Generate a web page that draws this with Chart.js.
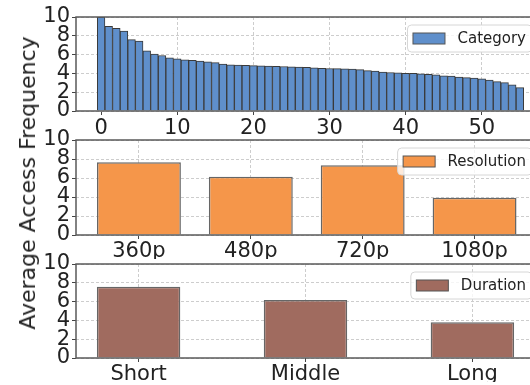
<!DOCTYPE html>
<html>
<head>
<meta charset="utf-8">
<script src="https://cdn.jsdelivr.net/npm/chart.js@4.4.1/dist/chart.umd.min.js"></script>
<style>
html,body{margin:0;padding:0;overflow:hidden;background:#fff;width:530px;height:385px;}
#wrap{position:relative;width:560px;height:385px;}
canvas{position:absolute;left:0;top:0;}
#ylab{position:absolute;left:28px;top:183px;transform:translate(-50%,-50%) rotate(-90deg);white-space:nowrap;font-family:'DejaVu Sans';font-size:22px;line-height:1;color:#222;}
</style>
</head>
<body>
<div id="wrap">
<canvas id="c1" width="560" height="385"></canvas>
<canvas id="c2" width="560" height="385"></canvas>
<canvas id="c3" width="560" height="385"></canvas>
<div id="ylab">Average Access Frequency</div>
</div>
<script>
// ---- data ----
const categoryIds = Array.from({length: 56}, (_, i) => i);
const categoryValues = [10.0, 9.0, 8.8, 8.5, 7.6, 7.45, 6.4, 6.05, 5.9, 5.65,
  5.55, 5.45, 5.38, 5.3, 5.22, 5.15, 4.98, 4.9, 4.88, 4.85,
  4.82, 4.8, 4.77, 4.75, 4.73, 4.71, 4.68, 4.65, 4.6, 4.55,
  4.52, 4.5, 4.48, 4.45, 4.4, 4.3, 4.25, 4.15, 4.1, 4.05,
  4.02, 4.0, 3.95, 3.9, 3.85, 3.75, 3.72, 3.62, 3.55, 3.5,
  3.42, 3.3, 3.12, 3.02, 2.78, 2.48];
const categoryTicks = [0, 10, 20, 30, 40, 50];
const resolutionLabels = ['360p', '480p', '720p', '1080p'];
const resolutionValues = [7.65, 6.14, 7.33, 3.93];
const durationLabels = ['Short', 'Middle', 'Long'];
const durationValues = [7.59, 6.17, 3.8];
const yTicks = [0, 2, 4, 6, 8, 10];

Chart.defaults.font.family = "'DejaVu Sans'";
Chart.defaults.color = '#222';

const spinePlugin = {
  id: 'spines',
  afterDraw(chart) {
    const {ctx, chartArea: a} = chart;
    ctx.save();
    ctx.strokeStyle = '#5a5a5a';
    ctx.lineWidth = 1.5;
    ctx.strokeRect(a.left, a.top, a.right - a.left, a.bottom - a.top);
    ctx.restore();
    const o = chart.options.plugins.boxLegend;
    const ds = chart.data.datasets[0];
    ctx.save();
    ctx.font = '15px "DejaVu Sans"';
    const tw = ctx.measureText(ds.label).width;
    const w = 56 + tw, h = 27;
    const x0 = o.right - w, y0 = a.top + 8;
    ctx.beginPath();
    ctx.roundRect(x0, y0, w, h, 4);
    ctx.fillStyle = 'rgba(255,255,255,0.8)';
    ctx.fill();
    ctx.strokeStyle = '#d6d6d6';
    ctx.lineWidth = 1;
    ctx.stroke();
    ctx.fillStyle = ds.backgroundColor;
    ctx.fillRect(x0 + 5.5, y0 + 8, 32, 11);
    ctx.strokeStyle = '#555';
    ctx.lineWidth = 1;
    ctx.strokeRect(x0 + 5.5, y0 + 8, 32, 11);
    ctx.fillStyle = '#222';
    ctx.textBaseline = 'middle';
    ctx.fillText(ds.label, x0 + 50, y0 + h / 2 + 1);
    ctx.restore();
  }
};

function makeChart(id, opts) {
  const {labels, values, xs, ticks, min, max, barPct, color, edge, edgeW, label, top, bottom, right, tickPad} = opts;
  return new Chart(document.getElementById(id), {
    type: 'bar',
    data: {
      datasets: [{
        label: label,
        data: xs.map((x, i) => ({x: x, y: values[i]})),
        backgroundColor: color,
        borderColor: edge,
        borderWidth: edgeW,
        barPercentage: barPct,
        categoryPercentage: 1.0
      }]
    },
    options: {
      responsive: false,
      animation: false,
      layout: {padding: {left: 0, top: top, right: right, bottom: bottom}},
      plugins: {legend: {display: false}, tooltip: {enabled: false}, boxLegend: {right: 532}},
      scales: {
        x: {
          type: 'linear', min: min, max: max, offset: false, z: 1,
          grid: {offset: false, color: '#cdcdcd', lineWidth: 1, drawTicks: true, tickLength: 4, tickColor: '#444', tickWidth: 1, tickBorderDash: []},
          border: {display: false, dash: [3, 2]},
          afterBuildTicks: s => { s.ticks = ticks.map(v => ({value: v})); },
          afterFit: s => { s.height = 24; },
          ticks: {
            autoSkip: false, maxRotation: 0, padding: tickPad,
            font: {size: 21},
            callback: v => labels ? labels[v] : String(v)
          }
        },
        y: {
          min: 0, max: 10,
          grid: {color: '#cdcdcd', lineWidth: 1, drawTicks: true, tickLength: 4, tickColor: '#444', tickWidth: 1, tickBorderDash: []},
          border: {display: false, dash: [3, 2]},
          afterBuildTicks: s => { s.ticks = yTicks.map(v => ({value: v})); },
          afterFit: s => { s.width = 76; },
          ticks: {autoSkip: false, padding: 2, font: {size: 21}}
        }
      }
    },
    plugins: [spinePlugin]
  });
}

makeChart('c1', {
  labels: null, values: categoryValues, xs: categoryIds, ticks: categoryTicks,
  min: -3.3, max: 58.3, barPct: 1.0, color: '#5f8fcb', edge: '#3a3a3a', edgeW: 1,
  label: 'Category', top: 17, bottom: 385 - 111 - 24, right: 560 - 545, tickPad: 1
});
makeChart('c2', {
  labels: resolutionLabels, values: resolutionValues, xs: resolutionLabels.map((_, i) => i), ticks: resolutionLabels.map((_, i) => i),
  min: -0.5625, max: 3.5625, barPct: 0.75, color: '#f5964a', edge: '#666', edgeW: 1.5,
  label: 'Resolution', top: 140, bottom: 385 - 235 - 24, right: 560 - 537.5, tickPad: 0
});
makeChart('c3', {
  labels: durationLabels, values: durationValues, xs: durationLabels.map((_, i) => i), ticks: durationLabels.map((_, i) => i),
  min: -0.375, max: 2.375, barPct: 0.5, color: '#a06b5f', edge: '#666', edgeW: 1.5,
  label: 'Duration', top: 264, bottom: 385 - 358 - 24, right: 560 - 535, tickPad: 0
});
</script>
</body>
</html>
